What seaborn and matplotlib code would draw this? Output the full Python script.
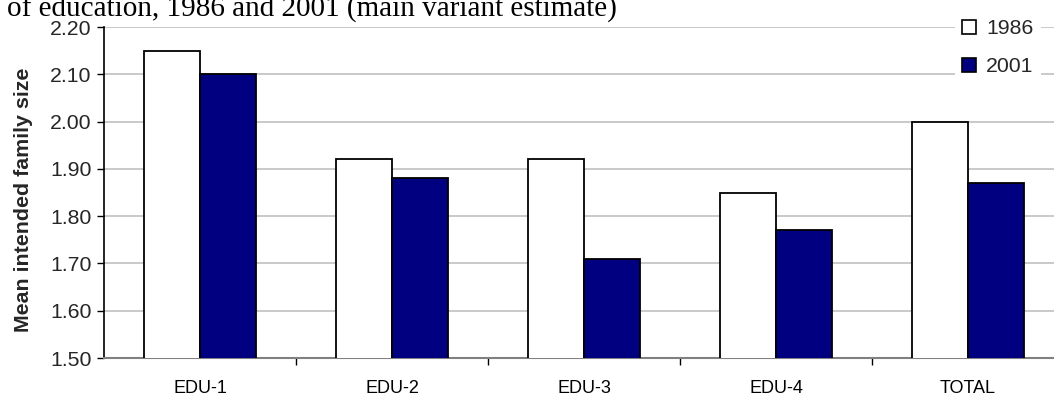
import matplotlib
matplotlib.use("Agg")
import matplotlib.pyplot as plt
from matplotlib.ticker import FixedLocator, FormatStrFormatter
import seaborn as sns
import pandas as pd

# Mean intended family size by level of education
categories = ["EDU-1", "EDU-2", "EDU-3", "EDU-4", "TOTAL"]
years = ["1986", "2001"]
values_1986 = [2.15, 1.92, 1.92, 1.85, 2.00]
values_2001 = [2.10, 1.88, 1.71, 1.77, 1.87]
y_ticks = [1.50, 1.60, 1.70, 1.80, 1.90, 2.00, 2.10, 2.20]
title_text = "of education, 1986 and 2001 (main variant estimate)"
y_label = "Mean intended family size"

df = pd.DataFrame({
    "category": categories * 2,
    "year": [years[0]] * len(categories) + [years[1]] * len(categories),
    "value": values_1986 + values_2001,
})

sns.set_theme(style="white")
plt.rcParams["font.family"] = ["Liberation Sans", "DejaVu Sans"]

W, H = 1054, 394
fig = plt.figure(figsize=(W / 100, H / 100), dpi=100)
# Plot area: left spine at x=104 px, baseline at y=358 px, top at y=27 px
ax = fig.add_axes([104 / W, 36 / H, 960 / W, 331 / H])

sns.barplot(
    data=df, x="category", y="value", hue="year", order=categories,
    hue_order=years, palette={"1986": "#ffffff", "2001": "#000080"},
    saturation=1, width=0.583, gap=0, edgecolor="black", linewidth=1.3,
    errorbar=None, ax=ax, zorder=3,
)

ax.set_ylim(1.50, 2.20)
ax.set_xlim(-0.5, len(categories) - 0.5)
ax.yaxis.set_major_locator(FixedLocator(y_ticks))
ax.yaxis.set_major_formatter(FormatStrFormatter("%.2f"))
ax.yaxis.grid(True, color="#c0c0c0", linewidth=1.2, zorder=0)
ax.set_axisbelow(True)

# category separators as minor ticks on the x axis
ax.xaxis.set_minor_locator(FixedLocator([i + 0.5 for i in range(len(categories))]))
ax.tick_params(axis="x", which="major", length=0, pad=15.5, labelsize=13, colors="black")
ax.tick_params(axis="x", which="minor", length=5, width=1, direction="out",
               color="black", bottom=True)
ax.tick_params(axis="y", which="major", length=5, width=1, direction="out",
               color="black", labelsize=15.3, pad=4, left=True)

for side in ["top", "right"]:
    ax.spines[side].set_visible(False)
ax.spines["left"].set_color("black")
ax.spines["left"].set_linewidth(1.2)
ax.spines["bottom"].set_color("#808080")
ax.spines["bottom"].set_linewidth(1.5)

ax.set_xlabel("")
ax.set_ylabel(y_label, fontsize=15.4, fontweight="bold")
ax.yaxis.label.set_verticalalignment("center")
ax.yaxis.set_label_coords(-0.0835, 0.477)

leg = ax.legend(
    loc="upper left", bbox_to_anchor=(955 / W, 1 - 12 / H),
    bbox_transform=fig.transFigure, frameon=True, fancybox=False,
    facecolor="white", edgecolor="none", framealpha=1,
    fontsize=15.3, handlelength=0.62, handleheight=0.62,
    handletextpad=0.5, labelspacing=0.88, borderpad=0.35, borderaxespad=0,
)
for h in leg.legend_handles:
    h.set_edgecolor("black")
    h.set_linewidth(1.2)

fig.text(7 / W, 1 - 17 / H, title_text, family=["Liberation Serif", "DejaVu Serif"],
         fontsize=21, va="baseline", ha="left", color="black")

fig.savefig("out.png", dpi=100, facecolor="white")
